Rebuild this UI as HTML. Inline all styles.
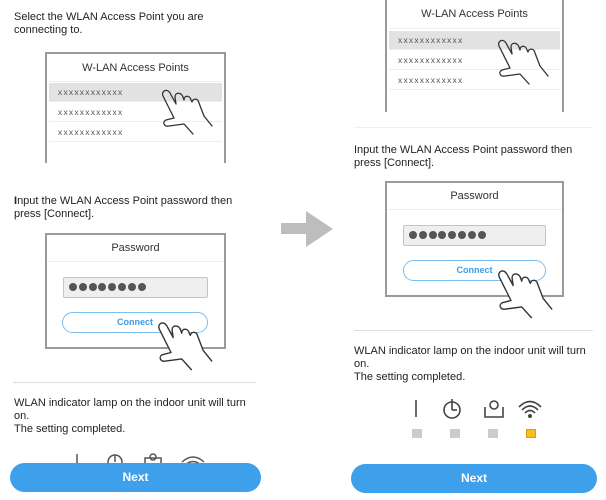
<!DOCTYPE html>
<html><head><meta charset="utf-8"><style>
*{margin:0;padding:0;box-sizing:border-box}
body{width:606px;height:500px;background:#fff;position:relative;overflow:hidden;font-family:"Liberation Sans",sans-serif;color:#222}
.a{position:absolute}
.t{font-size:11px;line-height:13px;color:#222}
.box{position:absolute;border:2px solid #9a9a9a;background:#fff}
.ttl{position:absolute;width:100%;text-align:center;font-size:11px;color:#333}
.row{position:absolute;left:2px;right:2px;height:19px;border-bottom:1px solid #eee;font-size:8.5px;letter-spacing:1.2px;color:#555;padding-left:9px;line-height:18px}
.inp{position:absolute;background:#efefef;border:1px solid #9cd0f2;border-radius:2px}
.dot{position:absolute;top:5px;width:8px;height:8px;border-radius:50%;background:#555}
.con{position:absolute;border:1.5px solid #79bff0;border-radius:11px;text-align:center;font-size:9px;font-weight:bold;color:#3d9ce6;line-height:18px}
.next{position:absolute;background:#3ea0ea;border-radius:15px;color:#fff;font-weight:bold;font-size:12px;text-align:center;line-height:29px}
.hr{position:absolute;height:1px;background:#ddd}
.sq{position:absolute;width:10px;height:9px;background:#ccc}
</style></head><body>

<!-- LEFT -->
<div class="a t" style="left:14px;top:11px">Select the WLAN Access Point you are<br>connecting to.</div>
<div class="box" style="left:45px;top:52px;width:181px;height:120px;border-bottom:none">
  <div class="ttl" style="top:8px">W-LAN Access Points</div>
  <div class="hr" style="left:2px;right:2px;top:27px;background:#eee"></div>
  <div class="row" style="top:29px;background:#e2e2e2">xxxxxxxxxxxx</div>
  <div class="row" style="top:49px">xxxxxxxxxxxx</div>
  <div class="row" style="top:69px">xxxxxxxxxxxx</div>
</div>
<div class="a" style="left:0;top:163px;width:280px;height:20px;background:#fff"></div>
<svg class="a" style="left:160px;top:86px" width="56" height="50" viewBox="0 0 56 50"><path d="M14,32 L3,10 C1,5 7,2 10,7 L16,18 L15,11 C15,6 21,6 23,11 L24,14 C24,9 30,9 31,14 L32,16 C33,12 38,12 39,17 L44,30 L52,40 M14,32 L6,34 C2,36 4,41 9,40 L24,38 L33,48" fill="none" stroke="#333" stroke-width="1.3" stroke-linejoin="round" stroke-linecap="round"/></svg>

<div class="a t" style="left:14px;top:195px"><b style="font-weight:bold">I</b>nput the WLAN Access Point password then<br>press [Connect].</div>
<div class="box" style="left:45px;top:233px;width:181px;height:116px">
  <div class="ttl" style="top:7px">Password</div>
  <div class="hr" style="left:0;right:0;top:26px;background:#eee"></div>
</div>
<div class="inp" style="left:63px;top:277px;width:145px;height:21px">
  <div class="dot" style="left:5px"></div><div class="dot" style="left:14.8px"></div><div class="dot" style="left:24.6px"></div><div class="dot" style="left:34.4px"></div><div class="dot" style="left:44.2px"></div><div class="dot" style="left:54px"></div><div class="dot" style="left:63.8px"></div><div class="dot" style="left:73.6px"></div>
</div>
<div class="con" style="left:62px;top:312px;width:146px;height:21px">Connect</div>
<svg class="a" style="left:156px;top:318px" width="60" height="54" viewBox="0 0 56 50"><path d="M14,32 L3,10 C1,5 7,2 10,7 L16,18 L15,11 C15,6 21,6 23,11 L24,14 C24,9 30,9 31,14 L32,16 C33,12 38,12 39,17 L44,30 L52,40 M14,32 L6,34 C2,36 4,41 9,40 L24,38 L33,48" fill="#fff" stroke="#333" stroke-width="1.3" stroke-linejoin="round" stroke-linecap="round"/></svg>

<div class="hr" style="left:13px;top:382px;width:243px"></div>
<div class="a t" style="left:14px;top:397px">WLAN indicator lamp on the indoor unit will turn<br>on.<br>The setting completed.</div>
<svg class="a" style="left:60px;top:448px" width="160" height="20"><g fill="none" stroke="#555" stroke-width="1.5"><line x1="17" y1="6" x2="17" y2="20"/><circle cx="55" cy="14" r="7"/><line x1="55" y1="7" x2="55" y2="14"/><rect x="85" y="10" width="16" height="10"/><circle cx="93" cy="9" r="3"/><path d="M122,14 Q133,4 144,14 M125,17 Q133,10 141,17"/></g></svg>
<div class="next" style="left:10px;top:463px;width:251px;height:29px">Next</div>

<!-- ARROW -->
<svg class="a" style="left:280px;top:210px" width="55" height="38"><polygon points="1,13 26,13 26,1 53,19 26,37 26,24 1,24" fill="#bdbdbd"/></svg>

<!-- RIGHT -->
<div class="box" style="left:385px;top:-10px;width:179px;height:122px;border-bottom:none;border-top:none">
  <div class="ttl" style="top:18px">W-LAN Access Points</div>
  <div class="hr" style="left:2px;right:2px;top:38px;background:#eee"></div>
  <div class="row" style="top:41px;background:#e2e2e2">xxxxxxxxxxxx</div>
  <div class="row" style="top:61px">xxxxxxxxxxxx</div>
  <div class="row" style="top:81px">xxxxxxxxxxxx</div>
</div>
<svg class="a" style="left:496px;top:36px" width="56" height="50" viewBox="0 0 56 50"><path d="M14,32 L3,10 C1,5 7,2 10,7 L16,18 L15,11 C15,6 21,6 23,11 L24,14 C24,9 30,9 31,14 L32,16 C33,12 38,12 39,17 L44,30 L52,40 M14,32 L6,34 C2,36 4,41 9,40 L24,38 L33,48" fill="none" stroke="#333" stroke-width="1.3" stroke-linejoin="round" stroke-linecap="round"/></svg>
<div class="hr" style="left:354px;top:127px;width:239px;background:#f0f0f0"></div>

<div class="a t" style="left:354px;top:144px">Input the WLAN Access Point password then<br>press [Connect].</div>
<div class="box" style="left:385px;top:181px;width:179px;height:116px">
  <div class="ttl" style="top:7px">Password</div>
  <div class="hr" style="left:0;right:0;top:26px;background:#eee"></div>
</div>
<div class="inp" style="left:403px;top:225px;width:143px;height:21px">
  <div class="dot" style="left:5px"></div><div class="dot" style="left:14.8px"></div><div class="dot" style="left:24.6px"></div><div class="dot" style="left:34.4px"></div><div class="dot" style="left:44.2px"></div><div class="dot" style="left:54px"></div><div class="dot" style="left:63.8px"></div><div class="dot" style="left:73.6px"></div>
</div>
<div class="con" style="left:403px;top:260px;width:143px;height:21px">Connect</div>
<svg class="a" style="left:496px;top:266px" width="60" height="54" viewBox="0 0 56 50"><path d="M14,32 L3,10 C1,5 7,2 10,7 L16,18 L15,11 C15,6 21,6 23,11 L24,14 C24,9 30,9 31,14 L32,16 C33,12 38,12 39,17 L44,30 L52,40 M14,32 L6,34 C2,36 4,41 9,40 L24,38 L33,48" fill="#fff" stroke="#333" stroke-width="1.3" stroke-linejoin="round" stroke-linecap="round"/></svg>

<div class="hr" style="left:354px;top:330px;width:239px"></div>
<div class="a t" style="left:354px;top:345px">WLAN indicator lamp on the indoor unit will turn<br>on.<br>The setting completed.</div>
<svg class="a" style="left:400px;top:396px" width="150" height="26"><g fill="none" stroke="#444" stroke-width="1.6"><line x1="16" y1="4" x2="16" y2="21"/><circle cx="52" cy="14" r="8"/><line x1="52" y1="3" x2="52" y2="14"/><line x1="52" y1="14" x2="57" y2="14"/><path d="M85,11 L85,21 L103,21 L103,11"/><circle cx="94" cy="9" r="4"/><path d="M119,11 Q130,0 141,11 M122,14 Q130,6 138,14 M125,17 Q130,12 135,17"/></g><circle cx="130" cy="20" r="2" fill="#444"/></svg>
<div class="sq" style="left:412px;top:429px"></div>
<div class="sq" style="left:450px;top:429px"></div>
<div class="sq" style="left:488px;top:429px"></div>
<div class="sq" style="left:526px;top:429px;background:#f7bd1c;border:1px solid #e0a000"></div>
<div class="next" style="left:351px;top:464px;width:246px;height:29px">Next</div>
</body></html>
